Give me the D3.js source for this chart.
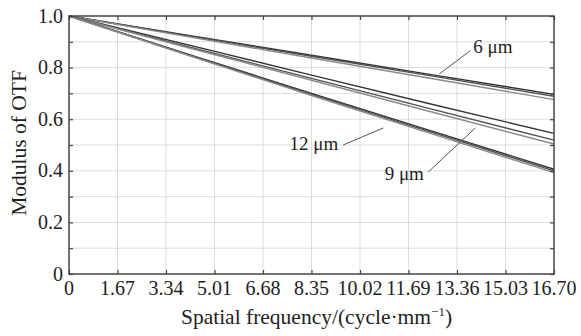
<!DOCTYPE html>
<html>
<head>
<meta charset="utf-8">
<script src="https://cdn.jsdelivr.net/npm/d3@7"></script>
<style>
  body { margin: 0; background: #fff; }
  svg text { font-family: "Liberation Serif", "Times New Roman", serif; fill: #1e1e1e; }
</style>
</head>
<body>
<svg id="svg" width="581" height="336"></svg>
<script>
// x ticks (cycle/mm) and y ticks
const xTicks = [0, 1.67, 3.34, 5.01, 6.68, 8.35, 10.02, 11.69, 13.36, 15.03, 16.70];
const xTickLabels = ['0', '1.67', '3.34', '5.01', '6.68', '8.35', '10.02', '11.69', '13.36', '15.03', '16.70'];
const yTicks = [0, 0.2, 0.4, 0.6, 0.8, 1.0];
const yTickLabels = ['0', '0.2', '0.4', '0.6', '0.8', '1.0'];
const yMinor = [0.1, 0.3, 0.5, 0.7, 0.9];

// sample frequencies for each curve
const freq = [0, 4.175, 8.35, 12.525, 16.70];

// MTF curves, three per pixel size
const mtf6 = [
  [1, 0.924, 0.848, 0.772, 0.696],
  [1, 0.922, 0.844, 0.767, 0.689],
  [1, 0.918, 0.837, 0.757, 0.676]
];
const mtf9 = [
  [1, 0.886, 0.771, 0.657, 0.545],
  [1, 0.879, 0.758, 0.638, 0.519],
  [1, 0.875, 0.751, 0.627, 0.504]
];
const mtf12 = [
  [1, 0.849, 0.700, 0.553, 0.406],
  [1, 0.847, 0.696, 0.548, 0.400],
  [1, 0.845, 0.692, 0.542, 0.393]
];
const curveColors = ['#333', '#505050', '#8a8a8a'];

// annotations: label, text anchor point, leader start, leader end (data units)
const notes = [
  { text: '6 μm', tx: 13.92, ty: 0.88, anchor: 'start', x1: 13.82, y1: 0.866, x2: 12.75, y2: 0.775 },
  { text: '9 μm', tx: 12.22, ty: 0.39, anchor: 'end', x1: 12.37, y1: 0.395, x2: 13.99, y2: 0.566 },
  { text: '12 μm', tx: 9.27, ty: 0.505, anchor: 'end', x1: 9.44, y1: 0.50, x2: 10.82, y2: 0.566 }
];

const margin = { left: 69, top: 16, right: 27, bottom: 62 };
const W = 581, H = 336;
const svg = d3.select('#svg');

const x = d3.scaleLinear().domain([0, 16.70]).range([margin.left, W - margin.right]);
const y = d3.scaleLinear().domain([0, 1]).range([H - margin.bottom, margin.top]);

// grid
const grid = svg.append('g').attr('stroke', '#dcdcdc').attr('stroke-width', 1);
grid.selectAll('line.v').data(xTicks.slice(1, -1)).join('line')
  .attr('x1', d => x(d)).attr('x2', d => x(d))
  .attr('y1', y(0)).attr('y2', y(1));
grid.selectAll('line.h').data(yTicks.slice(1, -1).concat(yMinor)).join('line')
  .attr('x1', x(0)).attr('x2', x(16.70))
  .attr('y1', d => y(d)).attr('y2', d => y(d));

// curves
const line = d3.line().x((d, i) => x(freq[i])).y(d => y(d));
const groups = [mtf6, mtf9, mtf12];
groups.forEach(g => {
  svg.append('g').selectAll('path').data(g).join('path')
    .attr('d', line)
    .attr('fill', 'none')
    .attr('stroke', (d, i) => curveColors[i])
    .attr('stroke-width', 1.4);
});

// axes: ticks inward on all four sides
const allY = yTicks.concat(yMinor);
svg.append('g').attr('transform', `translate(${x(0)},0)`)
  .call(d3.axisLeft(y).tickValues(allY).tickSize(-4).tickFormat(''))
  .call(g => g.select('.domain').remove());
svg.append('g').attr('transform', `translate(${x(16.70)},0)`)
  .call(d3.axisRight(y).tickValues(allY).tickSize(-4).tickFormat(''))
  .call(g => g.select('.domain').remove());
svg.append('g').attr('transform', `translate(0,${y(0)})`)
  .call(d3.axisBottom(x).tickValues(xTicks).tickSize(-4).tickFormat(''))
  .call(g => g.select('.domain').remove());
svg.append('g').attr('transform', `translate(0,${y(1)})`)
  .call(d3.axisTop(x).tickValues(xTicks).tickSize(-4).tickFormat(''))
  .call(g => g.select('.domain').remove());
svg.selectAll('.tick line').attr('stroke', '#444').attr('stroke-width', 1.2);

// frame
svg.append('rect')
  .attr('x', x(0)).attr('y', y(1))
  .attr('width', x(16.70) - x(0)).attr('height', y(0) - y(1))
  .attr('fill', 'none').attr('stroke', '#444').attr('stroke-width', 1.5);

// tick labels
svg.append('g').selectAll('text').data(xTicks).join('text')
  .attr('x', d => x(d)).attr('y', y(0) + 21)
  .attr('text-anchor', 'middle')
  .attr('font-size', 20)
  .text((d, i) => xTickLabels[i]);
svg.append('g').selectAll('text').data(yTicks).join('text')
  .attr('x', x(0) - 6).attr('y', d => y(d) + 6.5)
  .attr('text-anchor', 'end')
  .attr('font-size', 20)
  .text((d, i) => yTickLabels[i]);

// axis titles
const xt = svg.append('text')
  .attr('x', (x(0) + x(16.70)) / 2 + 5).attr('y', H - 12)
  .attr('text-anchor', 'middle').attr('font-size', 21.5);
xt.append('tspan').text('Spatial frequency/(cycle·mm');
xt.append('tspan').attr('dy', -8).attr('font-size', 13).text('−1');
xt.append('tspan').attr('dy', 8).text(')');

svg.append('text')
  .attr('transform', `translate(26,${(y(0) + y(1)) / 2 - 2}) rotate(-90)`)
  .attr('text-anchor', 'middle').attr('font-size', 21.5)
  .text('Modulus of OTF');

// annotations
const ann = svg.append('g');
ann.selectAll('line').data(notes).join('line')
  .attr('x1', d => x(d.x1)).attr('y1', d => y(d.y1))
  .attr('x2', d => x(d.x2)).attr('y2', d => y(d.y2))
  .attr('stroke', '#555').attr('stroke-width', 1);
ann.selectAll('text').data(notes).join('text')
  .attr('x', d => x(d.tx)).attr('y', d => y(d.ty) + 6.5)
  .attr('text-anchor', d => d.anchor)
  .attr('font-size', 19)
  .text(d => d.text);
</script>
</body>
</html>
